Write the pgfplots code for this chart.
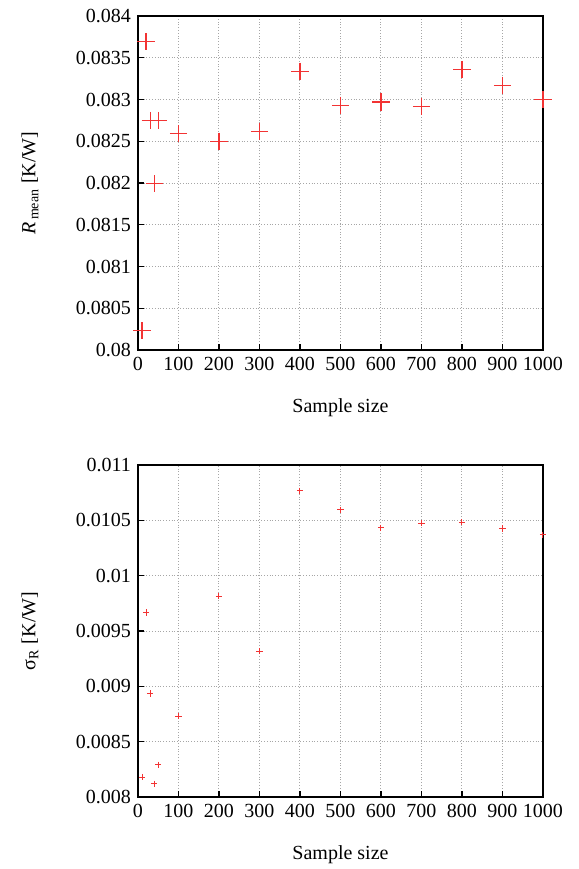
\documentclass[border=0pt]{standalone}
\usepackage{fontspec}
\setmainfont{Liberation Serif}
\usepackage{pgfplots}
\pgfplotsset{compat=1.18}

\definecolor{ptred}{rgb}{0.95,0.2,0.2}

\pgfplotsset{
  gp/.style={
    scale only axis,
    width=202.5pt,
    xmin=0, xmax=1000,
    xtick={0,100,...,1000},
    grid=major,
    major grid style={densely dotted, gray!70, line width=0.5pt},
    axis line style={line width=0.7pt},
    tick align=inside,
    xtick pos=left, ytick pos=left,
    major tick length=3pt,
    tick style={black, line width=0.7pt},
    scaled y ticks=false,
    /pgf/number format/assume math mode=true,
    /pgf/number format/1000 sep={},
    yticklabel style={/pgf/number format/fixed, /pgf/number format/precision=4},
    tick label style={font=\fontsize{10}{12}\selectfont},
    label style={font=\fontsize{10.5}{12}\selectfont},
    every axis y label/.style={at={(axis description cs:0,0.5)}, xshift=-54pt, rotate=90, anchor=center},
    every axis x label/.style={at={(axis description cs:0.5,0)}, yshift=-29pt, anchor=center},
    xlabel={Sample size},
  }
}

\begin{document}
\begin{tikzpicture}
\begin{axis}[gp,
    height=167pt,
    ymin=0.08, ymax=0.084,
    ytick={0.08,0.0805,0.081,0.0815,0.082,0.0825,0.083,0.0835,0.084},
    ylabel={\textit{R}\textsubscript{\,mean} [K/W]},
]
\addplot[only marks, mark=+, mark size=4.3pt, color=ptred, line width=0.6pt] coordinates {
  (10,0.08023) (20,0.08369) (30,0.08275) (40,0.08199) (50,0.08275)
  (100,0.08259) (200,0.08250) (300,0.08262) (400,0.08334) (500,0.08293)
  (600,0.08297) (700,0.08292) (800,0.08336) (900,0.08317) (1000,0.08300)
};
\end{axis}

\begin{axis}[gp,
    yshift=-223.5pt,
    height=166pt,
    ymin=0.008, ymax=0.011,
    ytick={0.008,0.0085,0.009,0.0095,0.01,0.0105,0.011},
    ylabel={σ\textsubscript{R} [K/W]},
]
\addplot[only marks, mark=+, mark size=1.6pt, color=ptred, line width=0.5pt] coordinates {
  (10,0.00818) (20,0.009667) (30,0.008935) (40,0.00812) (50,0.00829)
  (100,0.00873) (200,0.009815) (300,0.009317) (400,0.010767) (500,0.010595)
  (600,0.010432) (700,0.010475) (800,0.010484) (900,0.010427) (1000,0.010369)
};
\end{axis}

\pgfresetboundingbox
\path (-69pt,175pt) rectangle (220.5pt,-259.5pt);
\end{tikzpicture}
\end{document}
